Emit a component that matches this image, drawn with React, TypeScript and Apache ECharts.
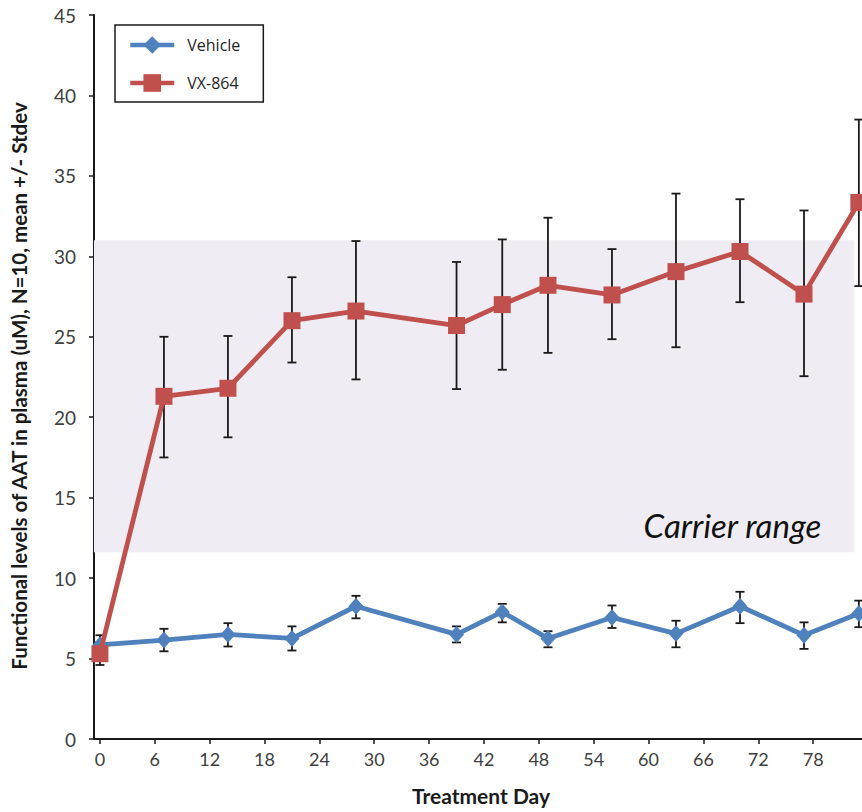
import React, { useEffect, useRef } from "react";
import * as echarts from "echarts";

// ---- data ----
const days = [0, 7, 14, 21, 28, 39, 44, 49, 56, 63, 70, 77, 83];

const vehicleMean = [5.85, 6.15, 6.5, 6.25, 8.25, 6.5, 7.9, 6.25, 7.55, 6.55, 8.25, 6.45, 7.8];
const vehicleLow = [5.25, 5.45, 5.75, 5.5, 7.5, 6.0, 7.25, 5.7, 6.9, 5.7, 7.2, 5.6, 6.95];
const vehicleHigh = [6.45, 6.85, 7.2, 7.0, 8.9, 7.0, 8.4, 6.7, 8.3, 7.35, 9.15, 7.25, 8.6];

const vxMean = [5.3, 21.3, 21.8, 26.0, 26.6, 25.7, 27.0, 28.2, 27.6, 29.05, 30.3, 27.65, 33.35];
const vxLow = [4.6, 17.5, 18.75, 23.4, 22.35, 21.75, 22.95, 24.0, 24.85, 24.35, 27.15, 22.55, 28.15];
const vxHigh = [6.0, 25.0, 25.05, 28.7, 30.95, 29.65, 31.05, 32.4, 30.45, 33.9, 33.55, 32.85, 38.5];

const xTickValues = [0, 6, 12, 18, 24, 30, 36, 42, 48, 54, 60, 66, 72, 78];

const carrierLow = 11.6;
const carrierHigh = 31;
const carrierEndDay = 82.5;

const seriesNames = ["Vehicle", "VX-864"];
const yTitle = "Functional levels of AAT in plasma (uM), N=10, mean +/- Stdev";
const xTitle = "Treatment Day";
const carrierText = "Carrier range";

const BLUE = "#4f81bd";
const RED = "#c0504d";
const AXIS = "#1a1a1a";

function errorSeries(name: string, low: number[], high: number[]) {
  return {
    type: "custom",
    name,
    silent: true,
    z: 3,
    clip: false,
    encode: { x: 0, y: [1, 2] },
    data: days.map((d, i) => [d, low[i], high[i]]),
    renderItem: (params: any, api: any) => {
      const x = api.value(0);
      const lo = api.value(1);
      const hi = api.value(2);
      const pHi = api.coord([x, hi]);
      const pLo = api.coord([x, lo]);
      const w = 4.5;
      const style = { stroke: "#1a1a1a", lineWidth: 1.8 };
      return {
        type: "group",
        children: [
          { type: "line", shape: { x1: pHi[0], y1: pHi[1], x2: pLo[0], y2: pLo[1] }, style },
          { type: "line", shape: { x1: pHi[0] - w, y1: pHi[1], x2: pHi[0] + w, y2: pHi[1] }, style },
          { type: "line", shape: { x1: pLo[0] - w, y1: pLo[1], x2: pLo[0] + w, y2: pLo[1] }, style },
        ],
      };
    },
  };
}

export default function App() {
  const ref = useRef<HTMLDivElement>(null);

  useEffect(() => {
    if (!ref.current) return;
    const chart = echarts.init(ref.current, undefined, { renderer: "svg" });
    const option: any = {
      animation: false,
      backgroundColor: "#ffffff",
      grid: {
        left: 94,
        top: 15,
        width: 774,
        height: 724,
        containLabel: false,
        outerBoundsMode: "none",
      },
      legend: {
        data: seriesNames,
        orient: "vertical",
        left: 115,
        top: 25,
        itemWidth: 44,
        itemHeight: 22,
        itemGap: 20.4,
        padding: [11.2, 23, 10.2, 13],
        borderColor: "#1a1a1a",
        borderWidth: 1.5,
        backgroundColor: "#ffffff",
        lineStyle: { width: 4.5 },
        textStyle: {
          fontFamily: "Open Sans",
          fontSize: 16,
          color: "#262626",
          padding: [0, 0, 0, 8],
        },
      },
      xAxis: {
        type: "value",
        min: -0.65,
        max: 84,
        name: xTitle,
        nameLocation: "middle",
        nameGap: 46,
        nameTextStyle: {
          fontFamily: "Lato",
          fontWeight: "bold",
          fontSize: 21,
          color: "#1a1a1a",
        },
        axisLine: { show: true, onZero: false, lineStyle: { color: AXIS, width: 2 } },
        axisTick: {
          show: true,
          length: 5,
          customValues: xTickValues,
          lineStyle: { color: AXIS, width: 1.5 },
        },
        axisLabel: {
          customValues: xTickValues,
          fontFamily: "Lato",
          fontSize: 18,
          color: "#404040",
          margin: 11,
        },
        splitLine: { show: false },
      },
      yAxis: {
        type: "value",
        min: 0,
        max: 45,
        interval: 5,
        axisLine: { show: true, onZero: false, lineStyle: { color: AXIS, width: 2 } },
        axisTick: { show: true, length: 5, lineStyle: { color: AXIS, width: 1.5 } },
        axisLabel: {
          fontFamily: "Lato",
          fontSize: 19,
          color: "#404040",
          margin: 18,
        },
        splitLine: { show: false },
      },
      graphic: [
        {
          type: "text",
          x: 19,
          y: 386,
          rotation: Math.PI / 2,
          style: {
            text: yTitle,
            fontFamily: "Lato",
            fontWeight: "bold",
            fontSize: 20.5,
            fill: "#1a1a1a",
            textAlign: "center",
            textVerticalAlign: "middle",
          },
        },
      ],
      series: [
        {
          type: "line",
          name: "carrier",
          data: [],
          silent: true,
          z: 1,
          markArea: {
            silent: true,
            itemStyle: { color: "#efedf3" },
            label: {
              show: true,
              position: "insideBottomRight",
              offset: [-28, -6],
              fontFamily: "Lato",
              fontStyle: "italic",
              fontSize: 33,
              color: "#111111",
            },
            data: [
              [
                { name: carrierText, xAxis: "min", yAxis: carrierHigh },
                { xAxis: carrierEndDay, yAxis: carrierLow },
              ],
            ],
          },
        },
        errorSeries("vehicleErr", vehicleLow, vehicleHigh),
        errorSeries("vxErr", vxLow, vxHigh),
        {
          type: "line",
          name: seriesNames[0],
          data: days.map((d, i) => [d, vehicleMean[i]]),
          symbol: "diamond",
          symbolSize: [15, 17],
          showAllSymbol: true,
          z: 5,
          lineStyle: { color: BLUE, width: 4.8 },
          itemStyle: { color: BLUE },
        },
        {
          type: "line",
          name: seriesNames[1],
          data: days.map((d, i) => [d, vxMean[i]]),
          symbol: "rect",
          symbolSize: 17,
          showAllSymbol: true,
          z: 6,
          lineStyle: { color: RED, width: 4.8 },
          itemStyle: { color: RED },
        },
      ],
    };
    chart.setOption(option);
    return () => chart.dispose();
  }, []);

  return (
    <div
      ref={ref}
      style={{ position: "fixed", left: 0, top: 0, width: 862, height: 812, background: "#fff" }}
    />
  );
}
